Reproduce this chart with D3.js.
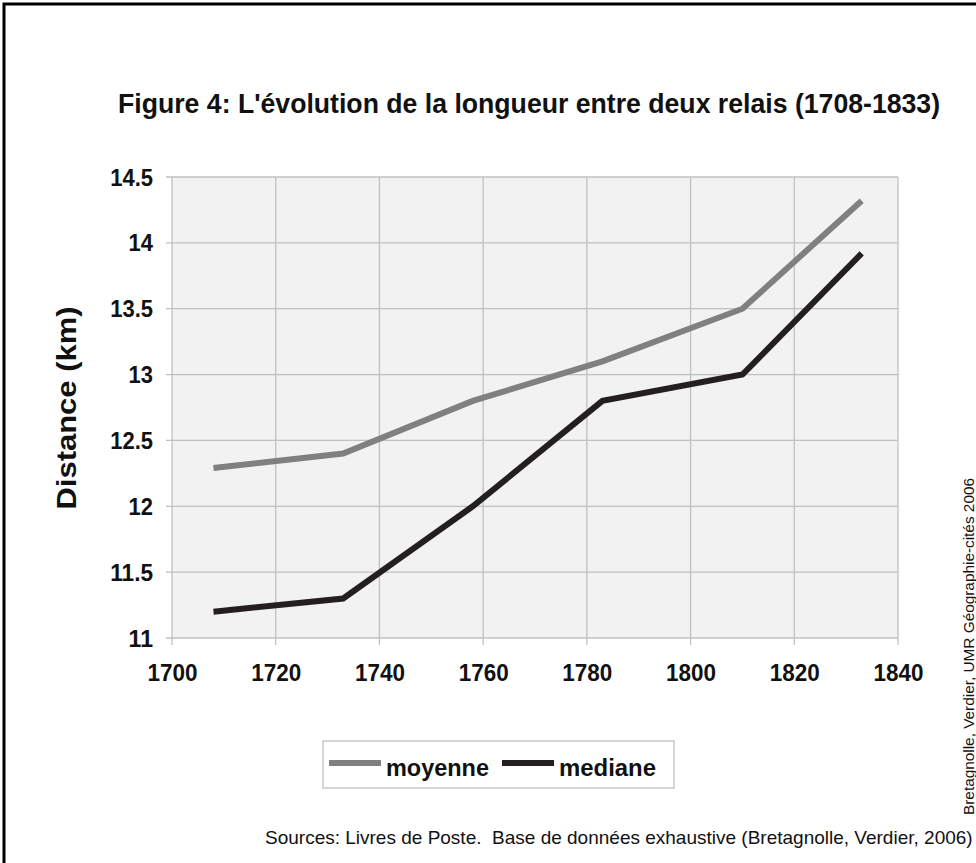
<!doctype html>
<html>
<head>
  <meta charset="utf-8">
  <title>Figure 4</title>
  <style>
  body{ margin:0; background:#fff; }
  svg{ display:block; font-family: "Liberation Sans", Arial, Helvetica, sans-serif; }
  .tick text{ font-weight:bold; font-size:23px; fill:#111; }
  </style>
</head>
<body>
  <svg></svg>
  <script src="https://d3js.org/d3.v7.min.js"></script>
  <script>
  var width = 976;
  var height = 863;

  // data
  var years = [1708, 1733, 1758, 1783, 1810, 1833];
  var moyenne = [12.29, 12.4, 12.8, 13.1, 13.5, 14.32];
  var mediane = [11.2, 11.3, 12.0, 12.8, 13.0, 13.92];
  var xTicks = [1700, 1720, 1740, 1760, 1780, 1800, 1820, 1840];
  var yTicks = [11, 11.5, 12, 12.5, 13, 13.5, 14, 14.5];
  var series = [
    { name: 'moyenne', values: moyenne, color: '#808080', len: 103 },
    { name: 'mediane', values: mediane, color: '#231f20', len: 97 }
  ];

  var plot = { left: 172, right: 898, top: 177, bottom: 638 };

  var svg = d3.select('svg')
    .attr('width', width)
    .attr('height', height);

  // outer frame
  svg.append('rect')
    .attr('x', 4).attr('y', 4)
    .attr('width', width + 10).attr('height', height + 10)
    .attr('fill', 'none')
    .attr('stroke', '#000')
    .attr('stroke-width', 3);

  // title: narrow-looking bold face, stretched vertically
  svg.append('text')
    .attr('transform', 'translate(529,113) scale(1,1.18)')
    .attr('text-anchor', 'middle')
    .attr('font-weight', 'bold')
    .attr('font-size', 24)
    .attr('textLength', 822)
    .attr('lengthAdjust', 'spacingAndGlyphs')
    .attr('fill', '#111')
    .text("Figure 4: L'évolution de la longueur entre deux relais (1708-1833)");

  var x = d3.scaleLinear().domain([1700, 1840]).range([plot.left, plot.right]);
  var y = d3.scaleLinear().domain([11, 14.5]).range([plot.bottom, plot.top]);

  svg.append('rect')
    .attr('x', plot.left).attr('y', plot.top)
    .attr('width', plot.right - plot.left)
    .attr('height', plot.bottom - plot.top)
    .attr('fill', '#f2f2f2');

  // grid
  svg.append('g').selectAll('line').data(yTicks).enter().append('line')
    .attr('x1', plot.left - 6).attr('x2', plot.right)
    .attr('y1', function(d){ return y(d); })
    .attr('y2', function(d){ return y(d); })
    .attr('stroke', '#c0c0c0').attr('stroke-width', 1.3);
  svg.append('g').selectAll('line').data(xTicks).enter().append('line')
    .attr('x1', function(d){ return x(d); })
    .attr('x2', function(d){ return x(d); })
    .attr('y1', plot.top).attr('y2', plot.bottom + 7)
    .attr('stroke', '#c0c0c0').attr('stroke-width', 1.3);

  var yAxis = svg.append('g')
    .attr('transform', 'translate(' + plot.left + ',0)')
    .call(d3.axisLeft(y).tickValues(yTicks).tickSize(0).tickPadding(19)
      .tickFormat(function(d){ return String(d); }));
  yAxis.select('.domain').remove();
  yAxis.selectAll('.tick text')
    .attr('dy', '0.35em')
    .attr('textLength', function(d){ return String(d).length * 12.2 - (String(d).indexOf('.') >= 0 ? 6 : 0); })
    .attr('lengthAdjust', 'spacingAndGlyphs');

  var xAxis = svg.append('g')
    .attr('transform', 'translate(0,' + plot.bottom + ')')
    .call(d3.axisBottom(x).tickValues(xTicks).tickSize(0).tickPadding(27)
      .tickFormat(d3.format('d')));
  xAxis.select('.domain').remove();
  xAxis.selectAll('.tick text')
    .attr('dy', '0.71em')
    .attr('textLength', 50)
    .attr('lengthAdjust', 'spacingAndGlyphs');

  svg.append('text')
    .attr('transform', 'translate(76,408) rotate(-90)')
    .attr('text-anchor', 'middle')
    .attr('font-weight', 'bold')
    .attr('font-size', 27)
    .attr('textLength', 203)
    .attr('lengthAdjust', 'spacingAndGlyphs')
    .attr('fill', '#111')
    .text('Distance (km)');

  var line = d3.line()
    .x(function(d, i){ return x(years[i]); })
    .y(function(d){ return y(d); });

  svg.append('g').selectAll('path').data(series).enter().append('path')
    .attr('d', function(s){ return line(s.values); })
    .attr('fill', 'none')
    .attr('stroke', function(s){ return s.color; })
    .attr('stroke-width', 6);

  // legend
  var legend = svg.append('g');
  legend.append('rect')
    .attr('x', 323).attr('y', 741)
    .attr('width', 351).attr('height', 47)
    .attr('fill', '#fff')
    .attr('stroke', '#c8c8c8')
    .attr('stroke-width', 1.5);
  var legX = [329, 502];
  var items = legend.selectAll('g.item').data(series).enter().append('g')
    .attr('class', 'item')
    .attr('transform', function(d, i){ return 'translate(' + legX[i] + ',0)'; });
  items.append('line')
    .attr('x1', 0).attr('x2', 52)
    .attr('y1', 763).attr('y2', 763)
    .attr('stroke', function(d){ return d.color; })
    .attr('stroke-width', 6);
  items.append('text')
    .attr('x', 57).attr('y', 776)
    .attr('font-weight', 'bold')
    .attr('font-size', 24)
    .attr('textLength', function(d){ return d.len; })
    .attr('lengthAdjust', 'spacingAndGlyphs')
    .attr('fill', '#111')
    .text(function(d){ return d.name; });

  svg.append('text')
    .attr('x', 265).attr('y', 844)
    .attr('font-size', 19)
    .attr('fill', '#111')
    .attr('xml:space', 'preserve')
    .text('Sources: Livres de Poste.  Base de données exhaustive (Bretagnolle, Verdier, 2006)');

  svg.append('text')
    .attr('transform', 'translate(974,815) rotate(-90)')
    .attr('font-size', 15)
    .attr('textLength', 337)
    .attr('lengthAdjust', 'spacingAndGlyphs')
    .attr('fill', '#111')
    .text('Bretagnolle, Verdier, UMR Géographie-cités 2006');
  </script>
</body>
</html>
